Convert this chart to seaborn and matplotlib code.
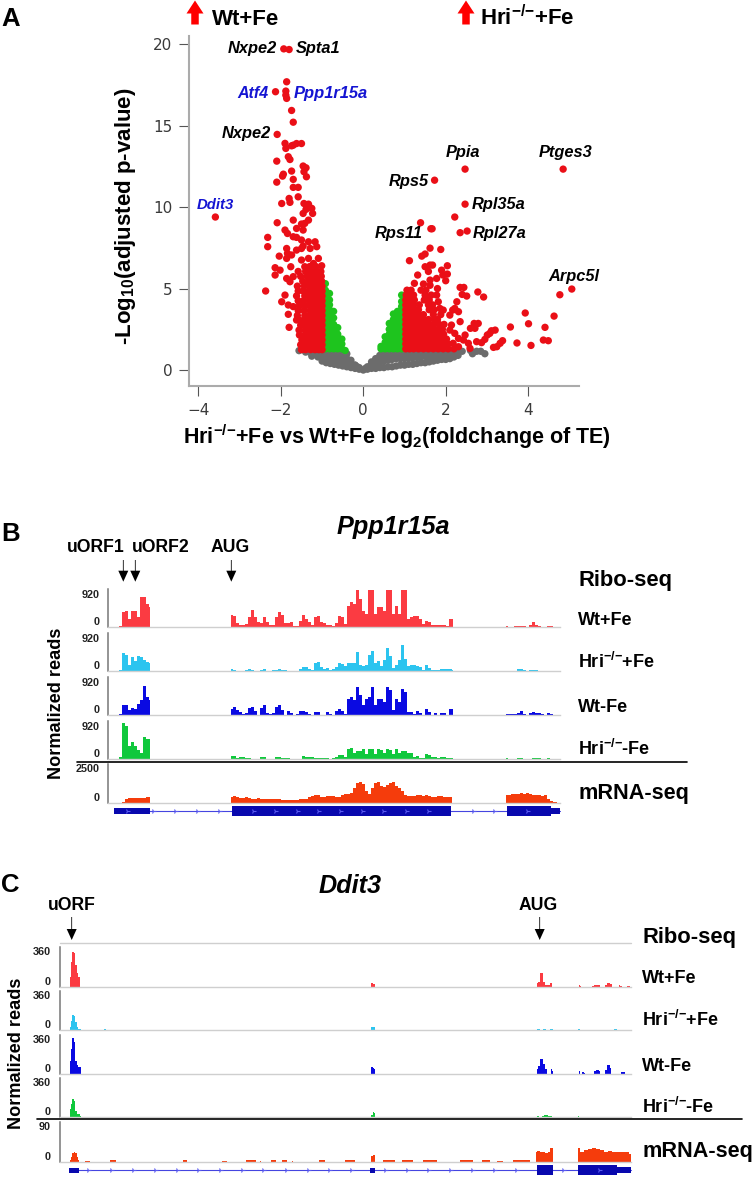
import numpy as np
import pandas as pd
import seaborn as sns
import matplotlib.pyplot as plt
from matplotlib.patches import Rectangle

W, H = 755, 1177
gap = float('nan')

# ---- panel A, points (log2 fold change, -log10 p)
red_left_x = [-3.59, -1.93, -1.80, -1.86, -2.13, -1.88, -1.88, -1.86, -1.74, -1.70, -2.09, -1.90, -1.88, -1.70,
              -1.62, -1.50, -1.74, -1.82, -1.78, -2.10, -1.46, -1.39, -1.44, -1.38, -1.74, -1.94, -1.96, -1.70,
              -2.10, -1.70, -1.58, -1.58, -1.80, -1.78, -1.98, -1.44, -1.33, -1.25, -1.39, -1.23, -1.46, -1.70,
              -1.33, -1.42, -1.50, -1.62, -1.46, -2.09, -1.90, -1.84, -1.70, -1.62, -1.50, -2.32, -2.32, -1.33,
              -1.17, -1.46, -1.13, -1.29, -1.86, -1.84, -1.62, -1.50, -1.74, -2.04, -1.86, -1.09, -1.33, -1.50,
              -1.21, -1.01, -1.42, -2.14, -2.02, -1.76, -2.14, -1.86, -1.70, -1.78, -2.37, -1.90, -1.98, -1.82,
              -1.70, -1.82, -1.62, -1.80]
red_left_y = [9.39, 19.71, 19.67, 17.69, 17.08, 17.12, 16.87, 16.67, 15.93, 15.21, 14.46, 13.91, 13.60, 13.80,
              13.90, 13.90, 13.76, 13.09, 12.92, 12.82, 12.52, 12.41, 12.17, 11.86, 12.21, 12.02, 11.90, 11.70,
              11.53, 11.21, 11.21, 10.63, 10.53, 10.29, 10.22, 10.22, 10.18, 9.92, 9.86, 9.61, 9.61, 9.20,
              9.20, 9.00, 8.96, 8.69, 8.59, 9.04, 8.59, 8.38, 8.18, 8.14, 7.98, 8.14, 7.57, 7.87,
              7.87, 7.61, 7.57, 7.46, 7.46, 7.16, 7.36, 7.46, 7.06, 6.99, 6.85, 6.85, 6.85, 6.75,
              6.54, 6.40, 6.34, 6.28, 6.13, 6.34, 5.83, 5.62, 5.73, 5.42, 4.85, 4.60, 4.19, 3.99,
              3.89, 3.42, 3.07, 2.62]

red_block_left_x = [-1.00, -1.08, -1.17, -1.28, -1.40, -1.50,
                    -1.00, -1.09, -1.18, -1.30, -1.41, -1.52,
                    -1.00, -1.08, -1.17, -1.29, -1.40, -1.49,
                    -1.00, -1.08, -1.18, -1.31, -1.42, -1.55,
                    -1.00, -1.09, -1.19, -1.30, -1.41, -1.56,
                    -1.00, -1.08, -1.17, -1.28, -1.40, -1.52,
                    -1.00, -1.08, -1.18, -1.30, -1.43, -1.54,
                    -1.00, -1.09, -1.19, -1.31, -1.42, -1.60,
                    -1.00, -1.08, -1.17, -1.29, -1.44, -1.58,
                    -1.00, -1.08, -1.18, -1.30, -1.41, -1.55,
                    -1.00, -1.09, -1.19, -1.31, -1.45, -1.58,
                    -1.00, -1.08, -1.18, -1.29, -1.42, -1.62,
                    -1.00, -1.09, -1.20, -1.32, -1.46, -1.58,
                    -1.00, -1.09, -1.19, -1.30, -1.43, -1.60,
                    -1.01, -1.10, -1.21, -1.33, -1.47,
                    -1.02, -1.11, -1.23, -1.36, -1.52,
                    -1.03, -1.13, -1.26, -1.40, -1.58,
                    -1.15, -1.30]
red_block_left_y = ([1.25] * 6 + [1.55] * 6 + [1.85] * 6 + [2.15] * 6 + [2.45] * 6 + [2.75] * 6 + [3.05] * 6
                    + [3.35] * 6 + [3.65] * 6 + [3.95] * 6 + [4.25] * 6 + [4.55] * 6 + [4.85] * 6 + [5.15] * 6
                    + [5.45] * 5 + [5.75] * 5 + [6.05] * 5 + [6.35] * 2)

red_right_x = [2.47, 4.85, 1.73, 2.47, 2.22, 1.39, 1.64, 1.67, 2.35, 2.52, 1.62, 1.88, 1.12, 1.42, 1.50, 1.50,
               1.62, 1.68, 2.04, 1.58, 1.90, 2.04, 1.93, 1.32, 1.78, 1.62, 2.00, 1.24, 1.46, 1.62, 1.80, 2.35,
               2.44, 2.40, 2.51, 2.78, 2.92, 5.06, 4.77, 4.63, 3.93, 4.01, 4.41, 3.57, 4.37, 4.49, 4.07, 3.73,
               3.38, 3.32, 3.24, 3.16, 3.20, 3.11, 3.01, 2.95, 3.07, 2.79, 2.69, 2.60, 2.71, 2.47, 2.43, 2.55,
               2.75, 2.87, 2.59, 2.27, 2.22, 2.17, 2.31, 2.35, 2.10, 2.14, 2.10, 2.22, 2.31, 2.18, 2.31, 1.94,
               1.86, 1.82, 1.78]
red_right_y = [12.33, 12.33, 11.65, 10.18, 9.39, 9.04, 8.67, 8.67, 8.43, 8.53, 7.48, 7.40, 6.71, 6.99, 7.12, 6.34,
               6.44, 6.44, 6.40, 6.05, 6.13, 5.89, 5.83, 5.83, 5.62, 5.52, 5.48, 5.32, 5.28, 5.20, 5.00, 5.07,
               5.07, 4.64, 4.54, 4.79, 4.48, 4.97, 4.62, 3.31, 3.50, 2.84, 2.62, 2.64, 1.84, 1.80, 1.51, 1.66,
               1.80, 1.64, 1.43, 1.39, 2.45, 2.41, 2.15, 1.88, 2.25, 2.86, 2.86, 2.56, 2.56, 2.15, 1.84, 1.64,
               1.74, 1.68, 1.33, 4.19, 3.78, 3.68, 3.58, 2.97, 3.37, 2.76, 2.45, 2.25, 1.94, 1.64, 1.43, 3.68,
               3.78, 4.19, 4.60]

red_block_right_x = [1.03, 1.12, 1.22, 1.34, 1.46, 1.58, 1.70, 1.82, 1.94, 2.06, 2.20,
                     1.03, 1.12, 1.22, 1.34, 1.46, 1.58, 1.70, 1.82, 1.94, 2.06,
                     1.03, 1.12, 1.22, 1.34, 1.46, 1.58, 1.70, 1.82, 1.94, 2.02,
                     1.03, 1.12, 1.22, 1.34, 1.46, 1.58, 1.70, 1.82, 1.95,
                     1.03, 1.12, 1.22, 1.34, 1.46, 1.58, 1.70, 1.82, 1.92,
                     1.03, 1.12, 1.22, 1.34, 1.46, 1.58, 1.70, 1.84, 1.96,
                     1.03, 1.12, 1.22, 1.34, 1.46, 1.58, 1.72, 1.80,
                     1.03, 1.12, 1.22, 1.34, 1.46, 1.70, 1.88,
                     1.03, 1.12, 1.22, 1.34, 1.60, 1.72,
                     1.03, 1.12, 1.22, 1.36, 1.58, 1.68,
                     1.03, 1.12, 1.24, 1.48, 1.60,
                     1.04, 1.13, 1.22, 1.50, 1.65,
                     1.06, 1.16, 1.40, 1.52]
red_block_right_y = ([1.30] * 11 + [1.60] * 10 + [1.90] * 10 + [2.20] * 9 + [2.50] * 9 + [2.80] * 9 + [3.10] * 8
                     + [3.40] * 7 + [3.70] * 6 + [4.00] * 6 + [4.30] * 5 + [4.60] * 5 + [4.90] * 4)

green_x = ([-.92] * 14 + [-.82] * 12 + [-.72] * 8 + [-.62] * 5 + [-.52] * 3 + [-.44]
           + [.93] * 12 + [.83] * 9 + [.73] * 8 + [.63] * 6 + [.53] * 3 + [.43] * 2)
green_y = [1.3, 1.6, 1.9, 2.2, 2.5, 2.8, 3.1, 3.4, 3.7, 4.0, 4.3, 4.6, 4.9, 5.3,
           1.3, 1.6, 1.9, 2.2, 2.5, 2.8, 3.1, 3.4, 3.7, 4.0, 4.3, 4.7,
           1.3, 1.6, 1.9, 2.2, 2.5, 2.8, 3.2, 3.6,
           1.3, 1.6, 1.9, 2.2, 2.6,
           1.3, 1.6, 1.9,
           1.2,
           1.3, 1.6, 1.9, 2.2, 2.5, 2.8, 3.1, 3.4, 3.7, 3.9, 4.2, 4.6,
           1.3, 1.6, 1.9, 2.2, 2.5, 2.8, 3.1, 3.4, 3.6,
           1.3, 1.6, 1.9, 2.2, 2.5, 2.8, 3.1, 3.44,
           1.3, 1.6, 1.9, 2.2, 2.5, 2.86,
           1.3, 1.7, 2.04,
           1.3, 1.45]

grey_x = [-1.56, -1.40, -1.30, -1.20, -1.10, -1.00, -.90, -.80, -.70, -.60, -.50, -.40,
          -1.25, -1.10, -1.00, -.90, -.80, -.70, -.60, -.50, -.40, -.30,
          -1.00, -.90, -.80, -.70, -.60, -.50, -.40, -.30, -.20, -.10, 0.0, -.30, -.20, -.15,
          .10, .20, .30, .40, .50, .60, .70, .80, .90, 1.00, 1.10, 1.20, 1.30, 1.40, 1.50, 1.60, 1.70, 1.80, 1.90,
          2.00, 2.10, 2.20, 2.30, 2.40,
          .20, .30, .40, .50, .60, .70, .80, .90, 1.00, 1.10, 1.20, 1.30, 1.40, 1.50, 1.60, 1.70, 1.80, 1.90, 2.00,
          2.10, 2.20,
          .10, .20, .30, .40, .50, .60, .70, .80, .90, 1.00, 1.10, 1.20, 1.30, 1.40, 1.50, 1.60, 1.70, 1.80, 1.90,
          2.00, 2.10, 2.65, 2.75, 2.85, 2.95, 2.60,
          -1.15, -1.00, -.90, -.80, -.70, -.60, -.50, -.40, -.30, -.20, -.10, .05, .15, .30, .40, .50, .60, .70,
          .80, .90, 1.00, 1.10, 1.20, 1.30, 1.40, 1.50, 1.60, 1.70, 1.80, 1.90, 2.00, 2.10, 2.20, 2.30]
grey_y = [1.19, 1.10, 1.10, 1.05, 1.05, 1.05, 1.10, 1.10, 1.10, 1.10, 1.10, 1.00,
          .85, .80, .75, .80, .75, .80, .80, .75, .70, .60,
          .55, .45, .40, .35, .30, .25, .20, .15, .10, .05, 0.0, .40, .30, .20,
          .20, .50, .70, .90, 1.05, 1.10, 1.10, 1.10, 1.10, 1.10, 1.10, 1.10, 1.10, 1.10, 1.10, 1.10, 1.10, 1.10, 1.10,
          1.10, 1.10, 1.10, 1.15, 1.15,
          .30, .40, .45, .55, .60, .65, .70, .70, .70, .75, .75, .80, .80, .85, .85, .90, .90, .90, .95,
          .95, .95,
          .05, .10, .10, .15, .15, .20, .20, .25, .30, .30, .35, .35, .40, .45, .45, .50, .55, .60, .65,
          .65, .70, 1.00, 1.15, 1.15, 1.00, 1.20,
          .95, .95, .60, .60, .55, .55, .50, .45, .35, .30, .15, .10, .20, .55, .70, .85, .90, .90,
          .90, .95, .95, .95, .95, .95, .95, 1.00, .60, .65, .70, .70, .75, .80, .80, .90]

x_ticks = [-4, -2, 0, 2, 4]
y_ticks = [0, 5, 10, 15, 20]

# ---- panel B, coverage per track, three exons
b_pos = list(range(117, 153, 3)) + [gap] + list(range(231, 456, 3)) + [gap] + list(range(506, 560, 3))

b_wt_fe = [0, 40, 375, 400, 210, 415, 415, 250, 750, 765, 580, 500, gap,
           315, 290, 100, 66, 66, 83, 250, 430, 250, 125,
           100, 265, 125, 66, 50, 250, 380, 315, 100, 116,
           125, 40, 25, 166, 315, 207, 125, 66, 250, 280,
           125, 100, 66, 66, 25, 100, 290, 250, 83, 540,
           620, 580, 920, 705, 415, 330, 920, 920, 330, 500,
           500, 415, 920, 920, 330, 540, 330, 920, 920, 207,
           250, 290, 290, 207, 83, 166, 125, 50, 50, 66,
           66, 50, 33, 207, 207, gap,
           25, 16, 0, 25, 33, 33, 33, 16, 66, 133, 66, 33, 16, 0, 33, 25, 0, 0]
b_hri_fe = [0, 25, 455, 415, 166, 350, 250, 375, 350, 290, 232, 207, gap,
            50, 33, 16, 0, 0, 33, 50, 40, 16, 0,
            33, 50, 16, 16, 25, 40, 50, 40, 25, 16,
            0, 0, 0, 50, 116, 100, 66, 40, 200, 232,
            100, 66, 83, 40, 50, 100, 215, 182, 125, 200,
            200, 207, 480, 166, 125, 166, 415, 500, 207, 250,
            125, 290, 580, 375, 83, 166, 290, 650, 315, 125,
            150, 166, 125, 100, 40, 150, 83, 25, 25, 40,
            66, 58, 50, 50, 40, gap,
            0, 16, 16, 16, 50, 66, 33, 16, 33, 33, 25, 16, 8, 0, 0, 0, 0, 0]
b_wt_nofe = [0, 25, 265, 265, 125, 182, 150, 290, 375, 730, 456, 375, gap,
             166, 207, 125, 83, 40, 66, 182, 215, 100, 16,
             182, 250, 66, 33, 66, 207, 265, 125, 16, 116,
             50, 0, 25, 100, 100, 83, 40, 0, 83, 83,
             0, 16, 83, 40, 16, 116, 150, 100, 40, 415,
             456, 375, 705, 500, 250, 415, 456, 705, 250, 415,
             415, 330, 705, 620, 125, 415, 330, 650, 580, 83,
             83, 40, 100, 66, 16, 150, 83, 16, 50, 16,
             50, 50, 16, 166, 166, gap,
             33, 25, 25, 40, 66, 100, 40, 16, 66, 83, 66, 50, 25, 0, 50, 25, 0, 0]
b_hri_nofe = [16, 66, 900, 830, 330, 430, 330, 232, 166, 565, 500, 500, gap,
              83, 83, 40, 66, 50, 40, 25, 0, 0, 0,
              66, 66, 0, 0, 0, 50, 66, 33, 25, 25,
              0, 0, 0, 0, 83, 66, 50, 66, 40, 40,
              33, 25, 25, 16, 25, 50, 100, 116, 66, 265,
              280, 150, 207, 207, 250, 125, 250, 250, 125, 250,
              232, 166, 250, 232, 125, 250, 166, 207, 207, 166,
              150, 66, 83, 33, 33, 125, 100, 66, 66, 33,
              50, 50, 40, 40, 25, gap,
              33, 16, 0, 8, 25, 25, 16, 0, 0, 25, 40, 25, 0, 16, 25, 0, 0, 0]
b_mrna = [0, 0, 65, 260, 300, 280, 320, 300, 280, 300, 345, 390, gap,
          390, 430, 365, 300, 300, 345, 320, 260, 260, 280,
          260, 260, 235, 215, 235, 215, 215, 195, 195, 170,
          170, 150, 150, 215, 235, 260, 345, 430, 515, 475,
          390, 390, 430, 430, 430, 390, 345, 475, 560, 540,
          645, 970, 1250, 1330, 1180, 750, 540, 970, 1290, 1330,
          1075, 1030, 1120, 1250, 1330, 1075, 970, 750, 475, 430,
          430, 410, 475, 475, 430, 515, 410, 390, 390, 430,
          410, 365, 345, 345, 0, gap,
          515, 515, 540, 580, 580, 600, 580, 600, 560, 515, 475, 475, 430, 515, 260, 85, 45, 20]

# ---- panel C, only the stretches that have reads
c_wt_fe_x = [70, 71.5, 73, 74.5, 76, 77.5, 79, 80.5, gap, 370.5, 372, 373.5, 375, gap,
             536.5, 539, 541.5, 544, 546.5, 549, 551.5, gap, 578.5, 581, gap, 592, 596, 600, gap,
             605, 608, 611.5, gap, 618.5, 621.5, gap, 627, 630]
c_wt_fe_y = [92, 229, 314, 305, 198, 128, 92, 0, gap, 61, 30, 24, 24, gap,
             37, 46, 128, 43, 18, 18, 30, gap, 18, 9, gap, 9, 12, 12, gap,
             15, 30, 24, gap, 12, 9, gap, 9, 6]
c_hri_fe_x = [70, 71.5, 73, 74.5, 76, 77.5, 79, 80.5, gap, 104, 106, gap, 370.5, 372, 373.5, 375, gap,
              536.5, 540, gap, 542.5, 545.5, gap, 550, 553, gap, 578, 579.5, gap, 613.5, 617]
c_hri_fe_y = [30, 85, 137, 128, 76, 24, 12, 6, gap, 12, 12, gap, 30, 30, 30, 24, gap,
              9, 9, gap, 12, 6, gap, 12, 6, gap, 6, 6, gap, 12, 12]
c_wt_nofe_x = [70, 71.5, 73, 74.5, 76, 77.5, 79, 80.5, gap, 370.5, 372, 373.5, 375, gap,
               536.5, 539, 541.5, 544, 546.5, gap, 551, 553, gap, 578.5, 580, gap, 582, 585, gap,
               594, 597, 600, gap, 605, 608, 611, gap, 621, 624.5]
c_wt_nofe_y = [122, 229, 330, 290, 122, 85, 67, 61, gap, 61, 61, 55, 46, gap,
               46, 76, 137, 92, 46, gap, 46, 30, gap, 37, 24, gap, 15, 12, gap,
               24, 40, 30, gap, 37, 85, 55, gap, 18, 18]
c_hri_nofe_x = [70, 71.5, 73, 74.5, 76, 77.5, 79, 80.5, gap, 370.5, 372, 373.5, 375, gap,
                537, 539, gap, 542, 546, 550, 553, gap, 578, 579]
c_hri_nofe_y = [76, 122, 168, 146, 61, 30, 30, 12, gap, 9, 24, 46, 37, gap,
                9, 9, gap, 15, 18, 12, 6, gap, 9, 9]
c_mrna_x = [70, 71.5, 73, 74.5, 76, 77.5, 79, gap, 85, 90, gap, 110, 116, gap, 183, 187, gap, 222, 227, gap,
            246, 251, 256, gap, 260, 261, gap, 271, 276, gap, 282, 287, gap, 292, 293, gap, 319, 325, gap,
            345, 355, gap, 370.5, 372, 373.5, 375, gap, 383, 388, 395, gap, 402, 413, gap, 423, 437, gap,
            460, 473, gap, 482, 490, gap, 497, 503, gap, 513, 530, gap,
            536, 538, 541, 544, 546.5, 549, 551, 553, gap,
            578, 582, 586, 590, 594, 598, 602, 606, 610, 614, 618, 622, 626, 631]
c_mrna_y = [4, 11, 19, 21, 19, 11, 4, gap, 2, 2, gap, 4, 4, gap, 3, 3, gap, 2, 2, gap,
            3, 4, 3, gap, 2, 2, gap, 3, 3, gap, 3, 3, gap, 2, 2, gap, 3, 3, gap,
            3, 3, gap, 11, 14, 15, 15, gap, 4, 4, 3, gap, 3, 3, gap, 3, 3, gap,
            3, 3, gap, 4, 4, gap, 2, 2, gap, 3, 3, gap,
            23, 24, 21, 23, 19, 23, 32, 30, gap,
            30, 23, 26, 29, 30, 29, 26, 23, 24, 21, 23, 21, 21, 17]

# gene models
b_exon_start = [114, 232, 507, 551]
b_exon_end = [150, 451, 551, 560]
b_exon_thick = [5.3, 10.6, 10.6, 5.3]
b_chevrons = [127.3, 152.7, 175, 197, 219, 253.3, 275, 296.7, 318.3, 340, 361.7, 383.3, 405.7, 427.7, 472.7,
              494.3, 527.3]
c_exon_start = [69, 370, 537, 578, 617]
c_exon_end = [79.3, 375, 553, 617, 631]
c_exon_thick = [5, 5, 10, 10, 6]
c_chevrons = [88.3, 110.7, 132.7, 155, 176.7, 198.3, 220, 241.7, 263.3, 286, 307.7, 329.3, 350.7, 385, 406.7,
              428.3, 450, 472.3, 494, 516, 563.3, 599.3]

RED, GREEN, GREY = '#EA0F17', '#1EC41E', '#6C6C6C'
TRACK_COLORS = ['#FB3B42', '#2CC4EF', '#0A0AE2', '#10C83C', '#F53C0C']
DARK_BLUE = '#0808AE'

sns.set_style('white')
plt.rcParams['font.family'] = ['Liberation Sans', 'DejaVu Sans']
plt.rcParams['mathtext.default'] = 'regular'
plt.rcParams['text.color'] = 'black'

fig = plt.figure(figsize=(W / 100, H / 100), dpi=100)


def px_axes(left, top, right, bottom):
    return fig.add_axes([left / W, 1 - bottom / H, (right - left) / W, (bottom - top) / H])


# Volcano
ax = px_axes(189, 36, 579, 386)
df = pd.concat([
    pd.DataFrame({'fc': grey_x, 'p': grey_y, 'group': 'ns'}),
    pd.DataFrame({'fc': green_x, 'p': green_y, 'group': 'fc'}),
    pd.DataFrame({'fc': red_left_x, 'p': red_left_y, 'group': 'sig'}),
    pd.DataFrame({'fc': red_block_left_x, 'p': red_block_left_y, 'group': 'sig'}),
    pd.DataFrame({'fc': red_right_x, 'p': red_right_y, 'group': 'sig'}),
    pd.DataFrame({'fc': red_block_right_x, 'p': red_block_right_y, 'group': 'sig'}),
], ignore_index=True)
sns.scatterplot(data=df, x='fc', y='p', hue='group', palette={'ns': GREY, 'fc': GREEN, 'sig': RED},
                s=28, linewidth=0, legend=False, ax=ax)
ax.set_xlim(-4.23, 5.235)
ax.set_ylim(-0.98, 20.5)
ax.set_xticks(x_ticks)
ax.set_yticks(y_ticks)
ax.set_xlabel('')
ax.set_ylabel('')
ax.patch.set_alpha(0)
ax.tick_params(length=7, width=0.8, color='#555555', labelsize=11, labelcolor='#3a3a3a', pad=5, left=True, bottom=True)
for lab in ax.get_xticklabels() + ax.get_yticklabels():
    lab.set_family('DejaVu Sans')
for side in ['top', 'right']:
    ax.spines[side].set_visible(False)
for side in ['left', 'bottom']:
    ax.spines[side].set_color('#ababab')
    ax.spines[side].set_linewidth(1.5)


def draw_track(top, bottom, left, right, xs, ys, color, ymax, label_top):
    t_ax = px_axes(left, top, right, bottom)
    t_ax.fill_between(np.array(xs, dtype=float), 0, np.array(ys, dtype=float), color=color, linewidth=0, step='mid')
    t_ax.set_xlim(left, right)
    t_ax.set_ylim(0, ymax)
    t_ax.set_xticks([])
    t_ax.set_yticks([0, label_top])
    t_ax.set_yticklabels(['0', str(label_top)], fontsize=7.8, fontweight='bold', color='#222222')
    t_ax.tick_params(left=False, pad=3)
    labels = t_ax.get_yticklabels()
    labels[0].set_verticalalignment('bottom')
    labels[1].set_verticalalignment('top')
    t_ax.patch.set_alpha(0)
    for side in ['top', 'right']:
        t_ax.spines[side].set_visible(False)
    t_ax.spines['left'].set_color('#777777')
    t_ax.spines['left'].set_linewidth(1.1)
    t_ax.spines['bottom'].set_color('#cfcfcf')
    t_ax.spines['bottom'].set_linewidth(1)
    return t_ax


b_tracks = [b_wt_fe, b_hri_fe, b_wt_nofe, b_hri_nofe]
b_bottoms = [627.3, 671.3, 715.3, 759.3]
for track, bot, col in zip(b_tracks, b_bottoms, TRACK_COLORS):
    draw_track(bot - 38.5, bot, 108.3, 559.7, b_pos, track, col, 960, 920)
draw_track(764, 802.7, 108.3, 559.7, b_pos, b_mrna, TRACK_COLORS[4], 2500, 2500)

c_tracks = [(c_wt_fe_x, c_wt_fe_y), (c_hri_fe_x, c_hri_fe_y), (c_wt_nofe_x, c_wt_nofe_y), (c_hri_nofe_x, c_hri_nofe_y)]
c_bottoms = [986.7, 1030, 1074, 1117.3]
for (cx, cy), bot, col in zip(c_tracks, c_bottoms, TRACK_COLORS):
    draw_track(bot - 39.3, bot, 60, 631, cx, cy, col, 360, 360)
draw_track(1122, 1161.7, 60, 631, c_mrna_x, c_mrna_y, TRACK_COLORS[4], 90, 90)

# Everything else goes on one overlay measured in pixels
ov = fig.add_axes([0, 0, 1, 1], zorder=10)
ov.set_xlim(0, W)
ov.set_ylim(H, 0)
ov.axis('off')

KO = '$^{{-}/{-}}$'


def label(x, y, s, size, **kw):
    ov.text(x, y, s, fontsize=size, fontweight=kw.pop('weight', 'bold'), va='baseline', ha='left', **kw)


for x, y, s in [(1, 26, 'A'), (1, 541, 'B'), (1, 892, 'C')]:
    label(x, y, s, 18.5, color='black')

for x in [195, 466]:
    ov.arrow(x, 24.5, 0, -24, width=7.5, head_width=17, head_length=13, length_includes_head=True,
             color='#FF0000', linewidth=0)
label(212, 25, 'Wt+Fe', 16)
label(480, 25, 'Hri' + KO + '+Fe', 16)

ov.text(125, 216.5, '-Log$_{10}$(adjusted p-value)', rotation=90, fontsize=16, fontweight='bold',
        ha='center', va='center')
ov.text(397, 444, 'Hri' + KO + '+Fe vs Wt+Fe log$_{2}$(foldchange of TE)', fontsize=15.5, fontweight='bold',
        ha='center', va='baseline')

gene_black = [(227.3, 53.3, 'Nxpe2'), (295.7, 53.5, 'Spta1'), (221.7, 138.3, 'Nxpe2'), (446, 157.3, 'Ppia'),
              (538.3, 157.3, 'Ptges3'), (388.3, 186, 'Rps5'), (471.7, 209.3, 'Rpl35a'), (472.7, 238.3, 'Rpl27a'),
              (374.3, 238.3, 'Rps11'), (548.3, 280.7, 'Arpc5l')]
for x, y, s in gene_black:
    label(x, y, s, 11.8, style='italic')
for x, y, s, size in [(237, 97.7, 'Atf4', 11.5), (293.3, 97.7, 'Ppp1r15a', 11.9), (197, 208.7, 'Ddit3', 10.7)]:
    label(x, y, s, size, style='italic', color='#1414D2')

label(337, 534, 'Ppp1r15a', 18.2, style='italic')
label(319, 893, 'Ddit3', 18.2, style='italic')

for x, y, s in [(66.7, 552, 'uORF1'), (131.7, 552, 'uORF2'), (210.7, 552, 'AUG'), (48, 910, 'uORF'), (519, 910, 'AUG')]:
    label(x, y, s, 12.7)
for x, y0, y1 in [(123.3, 560, 581.7), (135.3, 560, 581.7), (231.3, 560, 581.7), (71.7, 917, 940), (539.7, 917, 940)]:
    ov.arrow(x, y0, 0, y1 - y0, width=0.8, head_width=10, head_length=11, length_includes_head=True,
             color='black', linewidth=0)

b_names = ['Wt+Fe', 'Hri' + KO + '+Fe', 'Wt-Fe', 'Hri' + KO + '-Fe']
for y, s in zip([625, 667.7, 712, 755], b_names):
    label(578, y, s, 13)
label(578, 586, 'Ribo-seq', 15.8)
label(578, 799, 'mRNA-seq', 15.6)
for y, s in zip([983.3, 1026, 1070.7, 1113], b_names):
    label(642, y, s, 13)
label(642.7, 943, 'Ribo-seq', 15.8)
label(642, 1157, 'mRNA-seq', 15.6)

for x, y in [(57, 703), (17, 1053)]:
    ov.text(x, y, 'Normalized reads', rotation=90, fontsize=13.1, fontweight='bold', ha='center', va='center')

ov.plot([77, 687], [761.7, 761.7], color='black', lw=1.2)
ov.plot([37, 742], [1118.7, 1118.7], color='black', lw=1.2)
ov.plot([60, 631], [943.3, 943.3], color='#cfcfcf', lw=1)


def gene_model(y, starts, ends, thick, chevrons):
    ov.plot([starts[0], ends[-1]], [y, y], color='#4545E0', lw=0.8, zorder=1)
    for a, b, t in zip(starts, ends, thick):
        ov.add_patch(Rectangle((a, y - t / 2), b - a, t, facecolor=DARK_BLUE, edgecolor='none', zorder=2))
    ov.plot(chevrons, [y] * len(chevrons), linestyle='none', marker='4', markersize=4, color='#5A5AF0',
            markeredgewidth=0.8, zorder=3)


gene_model(811, b_exon_start, b_exon_end, b_exon_thick, b_chevrons)
gene_model(1170, c_exon_start, c_exon_end, c_exon_thick, c_chevrons)

fig.savefig('out.png', dpi=100)
